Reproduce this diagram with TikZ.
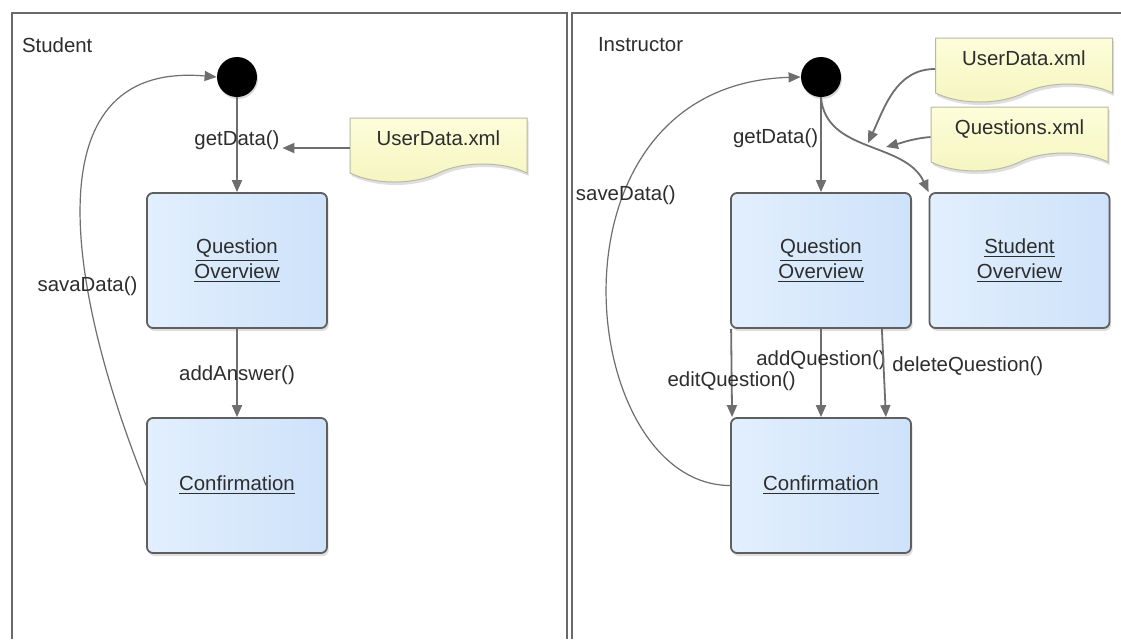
\documentclass[tikz,border=0pt]{standalone}
\usepackage{fontspec}
\setmainfont{Liberation Sans}
\usepackage{tikz}
\usetikzlibrary{arrows.meta,shapes.symbols,shadows}
\definecolor{lanegray}{RGB}{105,105,105}
\definecolor{edgegray}{RGB}{110,110,110}
\definecolor{boxedge}{RGB}{95,95,95}
\definecolor{boxlight}{RGB}{226,239,253}
\definecolor{boxdark}{RGB}{206,226,250}
\definecolor{notelight}{RGB}{253,253,218}
\definecolor{notedark}{RGB}{245,245,192}
\definecolor{noteedge}{RGB}{185,185,165}
\definecolor{inktext}{RGB}{45,45,45}

\begin{document}
\begin{tikzpicture}[
  x=0.5pt, y=-0.5pt,
  font=\fontsize{10.2}{12.4}\selectfont, text=inktext,
  lane/.style   ={draw=lanegray, line width=1pt},
  lanetitle/.style={anchor=west},
  state/.style  ={rounded corners=3pt, draw=boxedge, line width=0.9pt,
                  left color=boxlight, right color=boxdark,
                  minimum width=90pt, minimum height=67.5pt, align=center, inner sep=0pt,
                  drop shadow={opacity=0.25, shadow xshift=0.8pt, shadow yshift=-1.5pt}},
  start/.style  ={circle, fill=black, minimum size=20pt, inner sep=0pt,
                  drop shadow={opacity=0.3, shadow xshift=0.5pt, shadow yshift=-1pt}},
  xmlnote/.style={tape, tape bend top=none, tape bend bottom=in and out, tape bend height=9pt,
                  draw=noteedge, line width=0.5pt, top color=notelight, bottom color=notedark,
                  minimum width=88.5pt, minimum height=32pt, inner sep=0pt, text depth=2.5pt,
                  drop shadow={opacity=0.25, shadow xshift=0.8pt, shadow yshift=-1.5pt}},
  lbl/.style    ={inner sep=1pt},
  flow/.style   ={-{Triangle[length=6pt,width=5pt]}, line width=0.9pt, draw=edgegray},
  back/.style   ={flow, line width=0.6pt},
]
\path[use as bounding box, fill=white] (0,0) rectangle (1121,639);

% swimlanes
\draw[lane] (12,639) -- (12,13) -- (567,13) -- (567,639);
\draw[lane] (572,639) -- (572,13) -- (1121,13);
\node[lanetitle] (stuLane) at (15,45) {Student};
\node[lanetitle] (insLane) at (591,45) {Instructor};

% Student
\node[start]   (circL) at (237,77) {};
\node[state]   (qoL)   at (237,260.5) {\underline{Question}\\\underline{Overview}};
\node[state]   (cfL)   at (237,485.5) {\underline{Confirmation}};
\node[xmlnote] (noteL) at (438.5,141) {UserData.xml};

\draw[flow] (circL) -- node[lbl, pos=0.45] (getL) {getData()} (qoL);
\draw[flow] ([yshift=-3.5pt]noteL.west) -- ([yshift=-3.5pt]getL.east |- noteL.west);
\draw[flow] (qoL) -- node[lbl, pos=0.53] (ansL) {addAnswer()} (cfL);
\draw[back] (cfL.west) to[out=112, in=175, looseness=1.2]
  node[lbl, pos=0.35] (saveL) {savaData()} (circL.west);

% Instructor
\node[start]   (circR) at (821,77) {};
\node[state]   (qoR)   at (821,260.5) {\underline{Question}\\\underline{Overview}};
\node[state]   (stuR)  at (1019.5,260.5) {\underline{Student}\\\underline{Overview}};
\node[state]   (cfR)   at (821,485.5) {\underline{Confirmation}};
\node[xmlnote] (noteU) at (1024,61) {UserData.xml};
\node[xmlnote] (noteQ) at (1019.5,130) {Questions.xml};
\coordinate (mergeU) at (868,143);
\coordinate (mergeQ) at (886,147);

\draw[flow] (circR) -- node[lbl, left, pos=0.43] (getR) {getData()} (qoR);
\draw[flow] (circR.south) to[out=-85, in=115] (stuR.north west);
\draw[flow] ([yshift=-4pt]noteU.west) to[out=180, in=65] (mergeU);
\draw[flow] ([yshift=-3.5pt]noteQ.west) to[out=185, in=15] (mergeQ);

\draw[flow] ([xshift=0.5pt]qoR.south west) --
  node[lbl, pos=0.59] (editR) {editQuestion()} ([xshift=1pt]cfR.north west);
\draw[flow] (qoR) -- node[lbl, pos=0.36] (addR) {addQuestion()} (cfR);
\draw[flow] ([xshift=-15pt]qoR.south east) --
  node[lbl, right, pos=0.42, xshift=3pt] (delR) {deleteQuestion()} ([xshift=-13pt]cfR.north east);
\draw[back] (cfR.west) .. controls (575,485) and (535,85) ..
  node[lbl, pos=0.65] (saveR) {saveData()} (circR.west);

\end{tikzpicture}
\end{document}
